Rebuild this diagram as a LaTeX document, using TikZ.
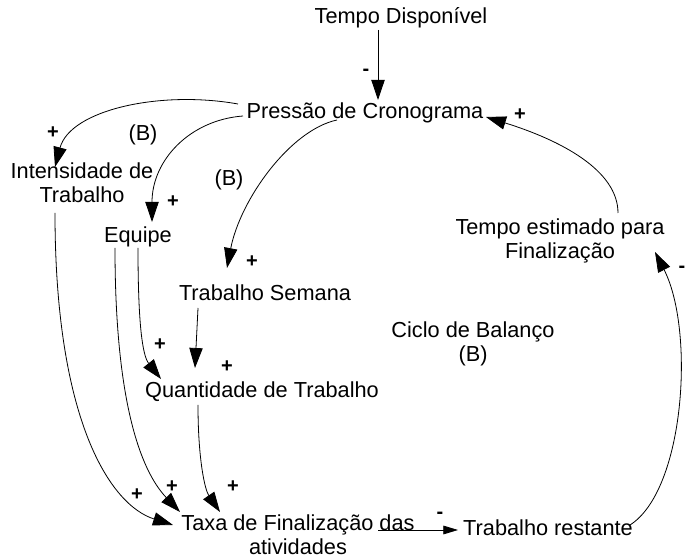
\documentclass[tikz,border=0pt]{standalone}
\usepackage{fontspec}
\setmainfont{Liberation Sans}
\usepackage{tikz}
\usetikzlibrary{arrows.meta}

\tikzset{
  var/.style = {inner sep=0pt, align=center, font=\fontsize{16.3}{18}\selectfont},
  sgn/.style = {inner sep=0pt, font=\fontsize{15}{15}\selectfont\bfseries},
  cld/.style = {line width=0.6pt, -{Triangle[length=15pt,width=10pt]}},
}

\begin{document}
\begin{tikzpicture}[x=0.75pt, y=-0.75pt]

  \useasboundingbox (0,0) rectangle (686,559);

  % variaveis
  \node[var] (tdisp)  at (401,18)  {Tempo Disponível};
  \node[var] (press)  at (365,113) {Pressão de Cronograma};
  \node[var] (intens) at (82,183)  {Intensidade de\\Trabalho};
  \node[var] (equipe) at (138,237) {Equipe};
  \node[var] (tsem)   at (265,293) {Trabalho Semana};
  \node[var] (quant)  at (262,392) {Quantidade de Trabalho};
  \node[var] (taxa)   at (298,535) {Taxa de Finalização das\\atividades};
  \node[var] (trest)  at (548,528) {Trabalho restante};
  \node[var] (testim) at (560,241) {Tempo estimado para\\Finalização};

  % ciclos
  \node[var] (ciclo) at (473,344) {Ciclo de Balanço\\(B)};
  \node[var] (b1) at (143,135) {(B)};
  \node[var] (b2) at (229,180) {(B)};

  % ligacoes
  \draw[cld] ([shift={(-23,12)}]tdisp.center) -- ([shift={(13,-13)}]press.center);
  \draw[cld] ([shift={(58,-28)}]testim.center)
     .. controls +(0,-43) and +(74,23) .. ([shift={(121,4)}]press.center);
  \draw[cld] ([shift={(-127,-9)}]press.center)
     .. controls +(-78,-14) and +(15,-57) .. ([shift={(-27,-16)}]intens.center);
  \draw[cld] ([shift={(-122,3)}]press.center)
     .. controls +(-53,4) and +(0,-62) .. ([shift={(14,-15)}]equipe.center);
  \draw[cld] ([shift={(-28,7)}]press.center)
     .. controls +(-47,10) and +(13,-68) .. ([shift={(-38,-25)}]tsem.center);
  \draw[cld] ([shift={(-67,15)}]tsem.center) -- ([shift={(-67,-24)}]quant.center);
  \draw[cld] ([shift={(0,11)}]equipe.center)
     .. controls +(0,72) and +(-19,-24) .. ([shift={(-101,-13)}]quant.center);
  \draw[cld] ([shift={(-23,11)}]equipe.center)
     .. controls +(0,152) and +(-40,-42) .. ([shift={(-118,-23)}]taxa.center);
  \draw[cld] ([shift={(-27,30)}]intens.center)
     .. controls +(0,207) and +(-63,-20) .. ([shift={(-125,-10)}]taxa.center);
  \draw[cld] ([shift={(-64,13)}]quant.center)
     .. controls +(0,55) and +(-15,-22) .. ([shift={(-78,-23)}]taxa.center);
  \draw[line width=0.6pt, -{Triangle[length=11pt,width=6.5pt]}]
     ([shift={(80,-5)}]taxa.center) -- ([shift={(-90,2)}]trest.center);
  \draw[cld] ([shift={(82,-3)}]trest.center)
     .. controls +(55,-35) and +(40,78) .. ([shift={(95,11)}]testim.center);

  % polaridades
  \node[sgn] (s1)  at (366,72)  {-};
  \node[sgn] (s2)  at (520,115) {+};
  \node[sgn] (s3)  at (53,133)  {+};
  \node[sgn] (s4)  at (173,202) {+};
  \node[sgn] (s5)  at (252,262) {+};
  \node[sgn] (s6)  at (227,367) {+};
  \node[sgn] (s7)  at (160,345) {+};
  \node[sgn] (s8)  at (172,487) {+};
  \node[sgn] (s9)  at (137,495) {+};
  \node[sgn] (s10) at (233,487) {+};
  \node[sgn] (s11) at (440,515) {-};
  \node[sgn] (s12) at (682,269) {-};

\end{tikzpicture}
\end{document}
